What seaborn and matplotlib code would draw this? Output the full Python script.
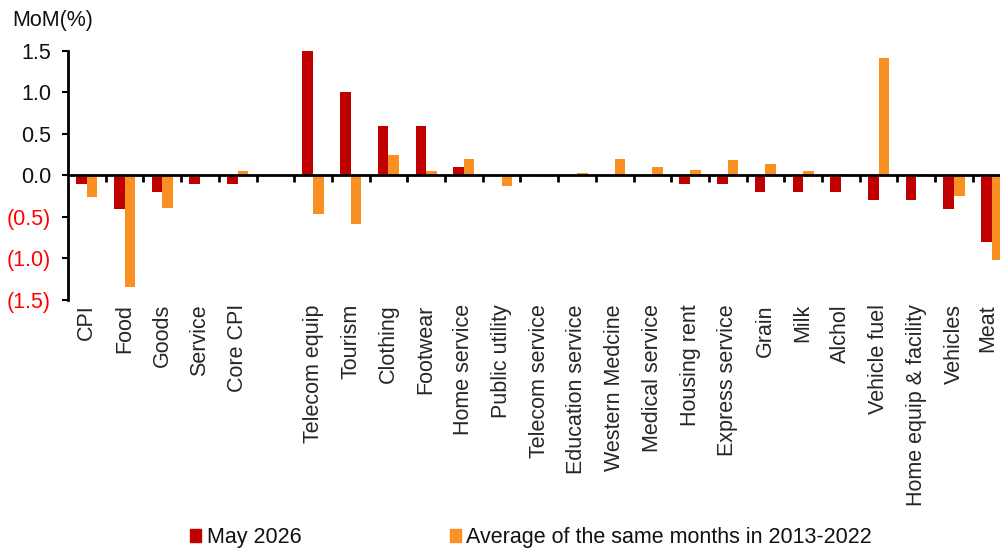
import numpy as np
import pandas as pd
import matplotlib
matplotlib.use("Agg")
import matplotlib.pyplot as plt
import matplotlib.transforms as mtransforms
import seaborn as sns

categories = ["CPI", "Food", "Goods", "Service", "Core CPI", " ",
              "Telecom equip", "Tourism", "Clothing", "Footwear", "Home service",
              "Public utility", "Telecom service", "Education service",
              "Western Medcine", "Medical service", "Housing rent",
              "Express service", "Grain", "Milk", "Alchol", "Vehicle fuel",
              "Home equip & facility", "Vehicles", "Meat"]

may_2026 = [-0.1, -0.4, -0.2, -0.1, -0.1, np.nan,
            1.5, 1.0, 0.6, 0.6, 0.1,
            0.0, 0.0, 0.0, 0.0, 0.0, -0.1,
            -0.1, -0.2, -0.2, -0.2, -0.3,
            -0.3, -0.4, -0.8]

avg_2013_2022 = [-0.26, -1.34, -0.39, 0.01, 0.05, np.nan,
                 -0.47, -0.59, 0.25, 0.05, 0.2,
                 -0.13, -0.02, 0.03, 0.2, 0.1, 0.06,
                 0.18, 0.14, 0.05, 0.02, 1.41,
                 0.02, -0.25, -1.02]

series_names = ["May 2026", "Average of the same months in 2013-2022"]
y_ticks = [-1.5, -1.0, -0.5, 0.0, 0.5, 1.0, 1.5]

FS = 15.5

sns.set_theme(style="white")
plt.rcParams["font.family"] = ["Liberation Sans", "DejaVu Sans"]
plt.rcParams["text.color"] = "#111111"

df = pd.DataFrame({
    "category": categories * 2,
    "series": [series_names[0]] * len(categories) + [series_names[1]] * len(categories),
    "value": may_2026 + avg_2013_2022,
}).dropna()

colors = {series_names[0]: "#C00000", series_names[1]: "#F99022"}

fig = plt.figure(figsize=(10, 5.52), dpi=100)
ax = fig.add_axes([0.068, 0.4565, 0.9425, 0.4515])

sns.barplot(data=df, x="category", y="value", hue="series", order=categories,
            hue_order=series_names, palette=colors, saturation=1, width=0.56,
            gap=0, edgecolor="none", linewidth=0, errorbar=None, legend=False,
            ax=ax)

ax.set_xlim(-0.5, len(categories) - 0.5)
ax.set_ylim(-1.5, 1.5)
ax.set_xlabel("")
ax.set_ylabel("")

# y axis: negatives in red with parentheses, positives padded to line up
ax.set_yticks(y_ticks)
ax.set_yticklabels([f"({abs(v):.1f})" if v < 0 else f"{v:.1f}" for v in y_ticks])
paren_shift = mtransforms.ScaledTranslation(-6 / 100, 0, fig.dpi_scale_trans)
for lab, v in zip(ax.get_yticklabels(), y_ticks):
    if v < 0:
        lab.set_color("#FF0000")
    else:
        lab.set_color("#111111")
        lab.set_transform(lab.get_transform() + paren_shift)
ax.tick_params(axis="y", direction="out", length=4.3, width=1.5, pad=8.0,
               labelsize=FS, left=True, color="black")

# x axis drawn along zero with ticks at category boundaries
for s in ["top", "right"]:
    ax.spines[s].set_visible(False)
ax.spines["bottom"].set_position(("data", 0))
for s in ["left", "bottom"]:
    ax.spines[s].set_color("black")
    ax.spines[s].set_linewidth(2)
    ax.spines[s].set_zorder(5)
ax.set_xticks(np.arange(0.5, len(categories), 1.0))
ax.set_xticklabels([])
ax.tick_params(axis="x", direction="out", length=5, width=2, bottom=True,
               color="black")

# category labels below the plot
sec = ax.secondary_xaxis(0)
sec.set_xticks(range(len(categories)))
sec.set_xticklabels(categories, rotation=90, va="top", ha="center")
sec.tick_params(length=0, pad=3, labelsize=FS)
sec.spines["bottom"].set_visible(False)
last = sec.get_xticklabels()[-1]
last.set_transform(last.get_transform()
                   + mtransforms.ScaledTranslation(-4 / 100, 0, fig.dpi_scale_trans))

fig.text(0.012, 0.963, "MoM(%)", fontsize=FS, va="center", ha="left")

handles = [plt.Rectangle((0, 0), 1, 1, color=colors[n]) for n in series_names]
fig.legend(handles, series_names, loc="lower left", bbox_to_anchor=(0.19, 0.007),
           ncol=2, frameon=False, fontsize=FS, handlelength=0.52,
           handleheight=0.52, handletextpad=0.25, columnspacing=6.9,
           borderpad=0, borderaxespad=0)

fig.savefig("out.png", dpi=100)
